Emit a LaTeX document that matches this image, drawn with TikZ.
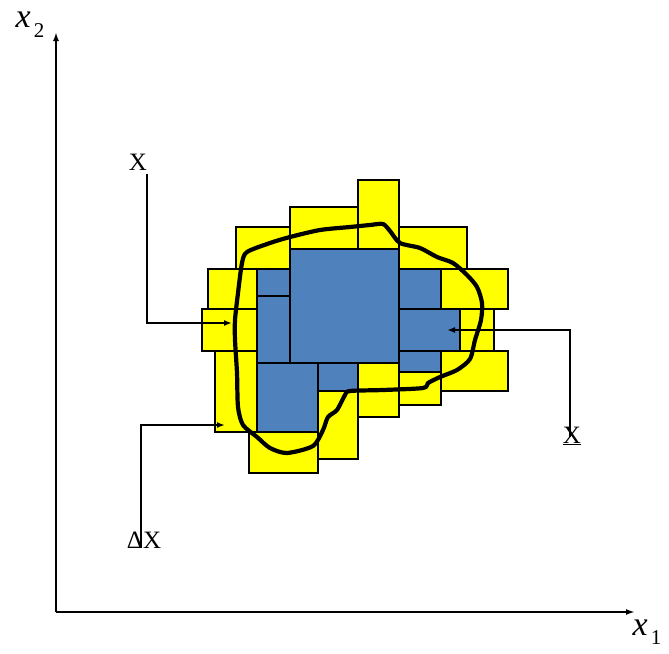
\documentclass[tikz,border=0pt]{standalone}
\usepackage{fontspec}
\setmainfont{Liberation Serif}
\usepackage{tikz}
\usetikzlibrary{arrows.meta,positioning,calc}
\definecolor{cellyellow}{RGB}{255,255,0}
\definecolor{cellblue}{RGB}{79,129,189}

\begin{document}
\begin{tikzpicture}[
      x=1pt, y=-1pt,
      yellowcell/.style={fill=cellyellow, draw=black, line width=1.4pt},
      bluecell/.style={fill=cellblue, draw=black, line width=1.4pt},
      axis/.style={-{Latex[length=9pt,width=6pt]}, line width=2.2pt},
      callout/.style={-{Latex[length=8pt,width=6pt]}, line width=1.8pt},
      setline/.style={line width=4.2pt, line join=round},
      lbl/.style={inner sep=0pt, font=\fontsize{25}{25}\selectfont}
    ]
      \useasboundingbox (0,0) rectangle (669,653);
      %% outer enclosure (yellow boxes)
      \foreach \xa/\ya/\xb/\yb in {358/180/399/249, 290/207/358/249,
          236/227/290/269, 399/227/467/269, 208/269/257/309,
          441/269/508/309, 202/309/257/351, 460/309/494/351,
          441/351/508/391, 399/372/441/405, 358/363/399/417,
          318/391/358/459, 249/432/318/473, 215/351/257/432}
        \draw[yellowcell] (\xa,\ya) rectangle (\xb,\yb);
      %% inner enclosure (blue boxes)
      \foreach \xa/\ya/\xb/\yb in {290/249/399/363, 257/269/290/296,
          257/296/290/363, 257/363/318/432, 318/363/358/391,
          399/269/441/309, 399/309/460/351, 399/351/441/372}
        \draw[bluecell] (\xa,\ya) rectangle (\xb,\yb);
      %% the set itself
      \draw[setline] plot[smooth cycle, tension=0.45] coordinates {
          (383,224) (390,231) (400,243) (420,248) (437,257) (453,263)
          (467,275) (477,287) (482,303) (481,320) (475,340) (470,359)
          (457,370) (440,377) (428,383) (423,388) (383,390) (350,391)
          (345,395) (337,410) (328,417) (323,430) (313,446) (287,453)
          (270,448) (257,437) (243,425) (238,407) (237,373) (235,340)
          (235,320) (238,293) (242,263) (247,252) (270,243) (290,237)
          (320,230) (350,227) (370,225)};
      %% axes
      \coordinate (O) at (56,612);
      \coordinate (xend) at (635,612);
      \coordinate (yend) at (56,32);
      \draw[axis] (O) -- (xend);
      \draw[axis] (O) -- (yend);
      \node[inner sep=0pt] (xtwo) at (30,25)
          {\fontsize{34}{34}\selectfont\itshape x\hspace{3pt}\raisebox{-10pt}{\upshape\fontsize{21}{21}\selectfont 2}};
      \node[inner sep=0pt] (xone) at (647,632)
          {\fontsize{34}{34}\selectfont\itshape x\hspace{3pt}\raisebox{-9pt}{\upshape\fontsize{21}{21}\selectfont 1}};
      %% labels and pointers
      \node[lbl] (xupper) at (138,162) {X};
      \node[lbl] (xlower) at (572,436) {\underline{X}};
      \node[lbl] (width) at (144,540) {ΔX};
      \coordinate (upperend) at (232,323);
      \coordinate (lowerend) at (447,330);
      \coordinate (widthend) at (225,425);
      \draw[callout] ([xshift=9pt,yshift=-4pt]xupper.south) |- (upperend);
      \draw[callout] ([xshift=-2pt,yshift=-10pt]xlower.north) |- (lowerend);
      \draw[callout] ([xshift=-3pt,yshift=-16pt]width.north) |- (widthend);
    \end{tikzpicture}
\end{document}
